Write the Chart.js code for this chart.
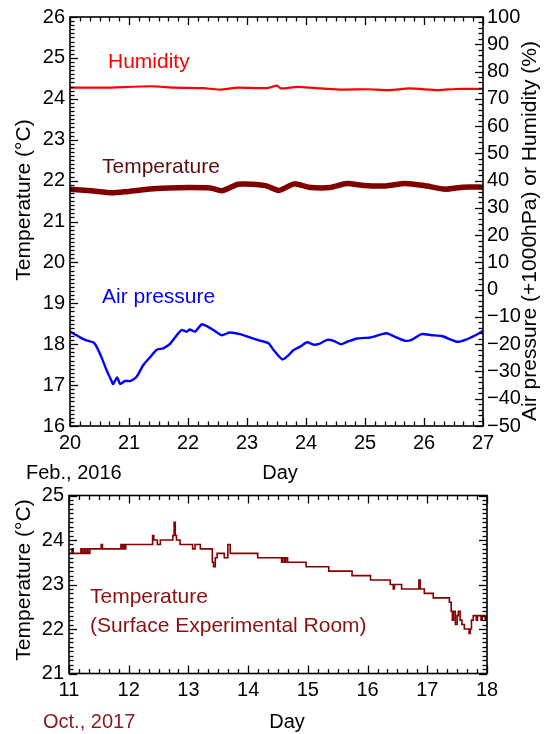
<!DOCTYPE html>
<html>
<head>
<meta charset="utf-8">
<script src="https://cdn.jsdelivr.net/npm/chart.js@4.4.1/dist/chart.umd.min.js"></script>
<style>
  html, body { margin: 0; padding: 0; background: #fff; }
  #wrap { position: relative; width: 548px; height: 734px; }
  #topBox { position: absolute; left: 0; top: 0; width: 548px; height: 490px; }
  #botBox { position: absolute; left: 0; top: 470px; width: 548px; height: 264px; }
</style>
</head>
<body>
<div id="wrap">
  <div id="topBox"><canvas id="topChart"></canvas></div>
  <div id="botBox"><canvas id="botChart"></canvas></div>
</div>
<script>
// ---- Feb. 2016 : room temperature (°C), left axis
const tDays16 = [20.0, 20.36, 20.71, 20.95, 21.31, 21.66, 22.02, 22.38, 22.58, 22.85, 23.09, 23.33,
                 23.54, 23.8, 24.04, 24.4, 24.69, 24.99, 25.35, 25.68, 26.0, 26.36, 26.66, 27.0];
const temp16 = [21.79, 21.75, 21.70, 21.73, 21.79, 21.82, 21.83, 21.82, 21.75, 21.91, 21.91, 21.87,
                21.76, 21.92, 21.84, 21.83, 21.93, 21.88, 21.87, 21.93, 21.88, 21.79, 21.84, 21.84];

// ---- Feb. 2016 : humidity (%), right axis
const hDays16 = [20.0, 20.59, 21.37, 21.78, 22.26, 22.53, 22.85, 23.33, 23.51, 23.57, 23.86, 24.16,
                 24.58, 25.05, 25.41, 25.76, 26.24, 26.54, 27.0];
const humidity16 = [74.1, 74.1, 74.6, 74.1, 73.9, 73.4, 74.1, 73.9, 74.8, 73.8, 74.4, 73.9,
                    73.4, 73.5, 73.2, 73.8, 73.2, 73.6, 73.6];

// ---- Feb. 2016 : air pressure (hPa - 1000), right axis
const pDays16 = [20.0, 20.17, 20.28, 20.4, 20.45, 20.54, 20.62, 20.71, 20.73, 20.8, 20.85, 20.93,
                 21.02, 21.13, 21.24, 21.36, 21.47, 21.58, 21.69, 21.81, 21.89, 21.98, 22.03, 22.12,
                 22.23, 22.32, 22.43, 22.57, 22.71, 22.88, 23.05, 23.22, 23.36, 23.45, 23.6, 23.7,
                 23.79, 23.9, 24.02, 24.13, 24.22, 24.36, 24.47, 24.59, 24.7, 24.87, 25.1, 25.36,
                 25.5, 25.67, 25.79, 25.96, 26.13, 26.3, 26.56, 26.7, 26.87, 27.0];
const pressure16 = [-15.4, -17.5, -18.6, -19.4, -20.9, -25.1, -29.5, -33.8, -34.6, -32.2, -34.6, -33.5,
                    -33.5, -31.9, -27.7, -24.7, -22.0, -21.5, -20.0, -16.7, -14.8, -15.4, -14.6, -15.4,
                    -12.7, -13.4, -14.8, -16.7, -15.7, -16.3, -17.5, -18.7, -19.6, -22.1, -25.6, -24.1,
                    -22.1, -20.9, -19.3, -20.2, -19.9, -18.4, -18.8, -20.0, -19.1, -17.9, -17.5, -16.0,
                    -17.2, -18.7, -18.4, -16.3, -16.7, -17.0, -19.1, -18.4, -16.7, -15.1];

// ---- Oct. 2017 : temperature, surface experimental room (°C), value holds until next change
const oDays17 = [11.00, 11.05, 11.07, 11.20, 11.22, 11.25, 11.27, 11.30, 11.32, 11.35, 11.54, 11.56,
                 11.87, 11.89, 11.91, 11.93, 11.95, 12.40, 12.42, 12.48, 12.53, 12.74, 12.76, 12.78,
                 12.80, 12.86, 13.07, 13.11, 13.20, 13.40, 13.42, 13.45, 13.48, 13.60, 13.66, 13.70,
                 14.16, 14.56, 14.58, 14.61, 14.63, 14.66, 14.97, 15.35, 15.74, 16.05, 16.38, 16.43,
                 16.45, 16.57, 16.86, 16.88, 16.95, 17.10, 17.37, 17.40, 17.42, 17.44, 17.47, 17.50,
                 17.52, 17.55, 17.58, 17.62, 17.70, 17.72, 17.74, 17.77, 17.82, 17.84, 17.90, 17.92,
                 17.97, 18.00];
const temp17 = [23.7, 23.8, 23.7, 23.8, 23.7, 23.8, 23.7, 23.8, 23.7, 23.8, 23.9, 23.8,
                23.9, 23.8, 23.9, 23.8, 23.9, 24.1, 24.0, 23.9, 24.0, 24.1, 24.4, 24.1,
                24.0, 23.9, 23.8, 23.9, 23.8, 23.5, 23.4, 23.6, 23.7, 23.6, 23.9, 23.7,
                23.6, 23.5, 23.6, 23.5, 23.6, 23.5, 23.4, 23.3, 23.2, 23.1, 23.0, 22.9,
                23.0, 22.9, 23.1, 22.9, 22.8, 22.7, 22.6, 22.4, 22.2, 22.4, 22.1, 22.3,
                22.4, 22.2, 22.1, 22.0, 21.9, 22.0, 22.2, 22.3, 22.2, 22.3, 22.2, 22.3,
                22.2, 22.3];

const FONT = '"Liberation Sans", Arial, sans-serif';
Chart.defaults.font.family = FONT;
Chart.defaults.font.size = 20;
Chart.defaults.color = '#000';

const pts = (xs, ys) => xs.map((x, i) => ({ x: x, y: ys[i] }));
const minusFmt = v => (v < 0 ? '\u2212' + Math.abs(v) : String(v));

// inward tick marks on the frame, major + minor, like the original plot
function drawScaleTicks(ctx, scale, area, major, per, sides) {
    const n = Math.round((scale.max - scale.min) / major * per);
    for (let i = 0; i <= n; i++) {
        const p = Math.round(scale.getPixelForValue(scale.min + i * major / per)) + 0.5;
        const len = i % per === 0 ? 8 : 4.5;
        for (const side of sides) {
            ctx.beginPath();
            if (side === 'bottom') { ctx.moveTo(p, area.bottom); ctx.lineTo(p, area.bottom - len); }
            else if (side === 'top') { ctx.moveTo(p, area.top); ctx.lineTo(p, area.top + len); }
            else if (side === 'left') { ctx.moveTo(area.left, p); ctx.lineTo(area.left + len, p); }
            else { ctx.moveTo(area.right, p); ctx.lineTo(area.right - len, p); }
            ctx.stroke();
        }
    }
}

function framePlugin(tickSpecs) {
    return {
        id: 'frameTicks',
        afterDraw(chart) {
            const ctx = chart.ctx;
            const a = chart.chartArea;
            ctx.save();
            ctx.strokeStyle = '#000';
            ctx.lineWidth = 1.3;
            tickSpecs.forEach(t => drawScaleTicks(ctx, chart.scales[t.id], a, t.major, t.per, t.sides));
            ctx.lineWidth = 1.6;
            ctx.strokeRect(a.left, a.top, a.right - a.left, a.bottom - a.top);
            ctx.restore();
        }
    };
}

// free text: series names, axis titles, date captions
function textPlugin(items) {
    return {
        id: 'texts',
        afterDraw(chart) {
            const ctx = chart.ctx;
            items.forEach(t => {
                ctx.save();
                ctx.font = (t.size || 20) + 'px ' + FONT;
                ctx.fillStyle = t.color || '#000';
                ctx.textAlign = t.align || 'left';
                ctx.textBaseline = t.base || 'alphabetic';
                ctx.translate(t.x, t.y);
                if (t.rot) ctx.rotate(t.rot);
                ctx.fillText(t.text, 0, 0);
                ctx.restore();
            });
        }
    };
}

const noGrid = { display: false, drawTicks: false };
const noBorder = { display: false };

// ---------------- top panel (Feb. 2016)
new Chart(document.getElementById('topChart'), {
    type: 'line',
    data: {
        datasets: [
            {
                label: 'Humidity',
                data: pts(hDays16, humidity16),
                yAxisID: 'y1',
                borderColor: '#ff0000',
                borderWidth: 2.2,
                pointRadius: 0,
                tension: 0.2
            },
            {
                label: 'Temperature',
                data: pts(tDays16, temp16),
                yAxisID: 'y',
                borderColor: '#800000',
                borderWidth: 5.5,
                pointRadius: 0,
                tension: 0.2
            },
            {
                label: 'Air pressure',
                data: pts(pDays16, pressure16),
                yAxisID: 'y1',
                borderColor: '#0000ff',
                borderWidth: 2.4,
                pointRadius: 0,
                tension: 0.2
            }
        ]
    },
    options: {
        responsive: true,
        maintainAspectRatio: false,
        animation: false,
        events: [],
        layout: { padding: { top: 17, left: 0, right: 0, bottom: 0 } },
        plugins: { legend: { display: false }, tooltip: { enabled: false } },
        scales: {
            x: {
                type: 'linear',
                min: 20, max: 27,
                grid: noGrid, border: noBorder,
                ticks: { stepSize: 1, autoSkip: false, padding: 5, maxRotation: 0 },
                afterFit(s) { s.height = 64; }
            },
            y: {
                position: 'left',
                min: 16, max: 26,
                grid: noGrid, border: noBorder,
                ticks: { stepSize: 1, padding: 5 },
                afterFit(s) { s.width = 70; }
            },
            y1: {
                position: 'right',
                min: -50, max: 100,
                grid: noGrid, border: noBorder,
                ticks: { stepSize: 10, padding: 4, callback: minusFmt },
                afterFit(s) { s.width = 65; }
            }
        }
    },
    plugins: [
        framePlugin([
            { id: 'x', major: 1, per: 6, sides: ['bottom', 'top'] },
            { id: 'y', major: 1, per: 10, sides: ['left'] },
            { id: 'y1', major: 10, per: 5, sides: ['right'] }
        ]),
        textPlugin([
            { text: 'Humidity', x: 108, y: 68, color: '#ff0000', size: 21 },
            { text: 'Temperature', x: 102, y: 173, color: '#5e0c0c', size: 21 },
            { text: 'Air pressure', x: 102, y: 303, color: '#0000ff', size: 21 },
            { text: 'Temperature (\u00b0C)', x: 24, y: 200, rot: -Math.PI / 2, align: 'center', base: 'middle', size: 21 },
            { text: 'Air pressure (+1000hPa) or Humidity (%)', x: 530, y: 231, rot: -Math.PI / 2, align: 'center', base: 'middle', size: 21 },
            { text: 'Feb., 2016', x: 26, y: 479 },
            { text: 'Day', x: 280, y: 479, align: 'center' }
        ])
    ]
});

// ---------------- bottom panel (Oct. 2017)
new Chart(document.getElementById('botChart'), {
    type: 'line',
    data: {
        datasets: [{
            label: 'Temperature (Surface Experimental Room)',
            data: pts(oDays17, temp17),
            borderColor: '#850000',
            borderWidth: 1.6,
            pointRadius: 0,
            stepped: 'before'
        }]
    },
    options: {
        responsive: true,
        maintainAspectRatio: false,
        animation: false,
        events: [],
        layout: { padding: { top: 25.5, left: 0, right: 61, bottom: 0 } },
        plugins: { legend: { display: false }, tooltip: { enabled: false } },
        scales: {
            x: {
                type: 'linear',
                min: 11, max: 18,
                grid: noGrid, border: noBorder,
                ticks: { stepSize: 1, autoSkip: false, padding: 5, maxRotation: 0 },
                afterFit(s) { s.height = 60.5; }
            },
            y: {
                position: 'left',
                min: 21, max: 25,
                grid: noGrid, border: noBorder,
                ticks: { stepSize: 1, padding: 5 },
                afterFit(s) { s.width = 69; }
            }
        }
    },
    plugins: [
        framePlugin([
            { id: 'x', major: 1, per: 6, sides: ['bottom', 'top'] },
            { id: 'y', major: 1, per: 10, sides: ['left', 'right'] }
        ]),
        textPlugin([
            { text: 'Temperature', x: 90, y: 133, color: '#8b1111', size: 21 },
            { text: '(Surface Experimental Room)', x: 90, y: 162, color: '#8b1111', size: 21 },
            { text: 'Temperature (\u00b0C)', x: 24, y: 110, rot: -Math.PI / 2, align: 'center', base: 'middle', size: 21 },
            { text: 'Oct., 2017', x: 43, y: 258, color: '#8b1a1a' },
            { text: 'Day', x: 287, y: 258, align: 'center' }
        ])
    ]
});
</script>
</body>
</html>
